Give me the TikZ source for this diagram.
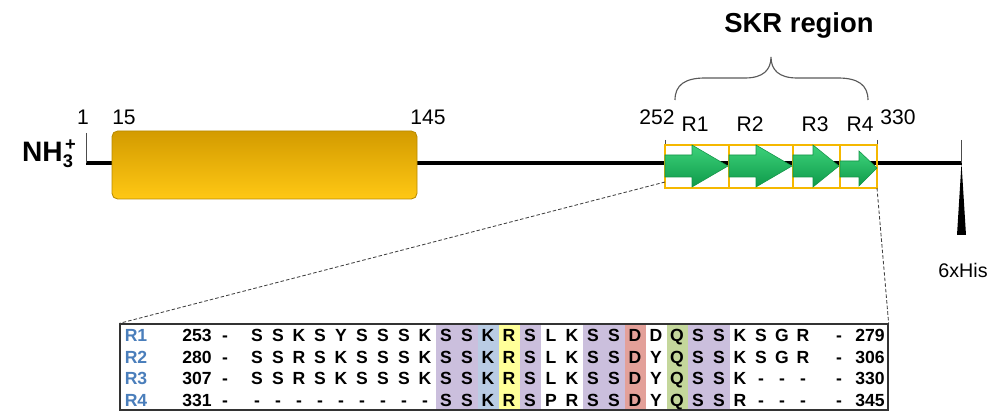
\documentclass[tikz,border=0pt]{standalone}
\usepackage{fontspec}
\setmainfont{Liberation Sans}

\definecolor{goldTop}{HTML}{D39B00}
\definecolor{goldBot}{HTML}{FFC814}
\definecolor{goldEdge}{HTML}{B88A00}
\definecolor{repEdge}{HTML}{F5B800}
\definecolor{arrTop}{HTML}{3DD27A}
\definecolor{arrBot}{HTML}{0E9A4A}
\definecolor{arrEdge}{HTML}{139447}
\definecolor{labBlue}{HTML}{4A7EBB}
\definecolor{colPur}{HTML}{CBBFDD}
\definecolor{colBlu}{HTML}{B9CCE4}
\definecolor{colYel}{HTML}{FFFF99}
\definecolor{colRed}{HTML}{E3A099}
\definecolor{colGrn}{HTML}{C4D79B}

\begin{document}
\begin{tikzpicture}[x=0.25mm, y=-0.25mm]
\tikzset{num/.style = {anchor=base, inner sep=0pt, font=\fontsize{15}{18}\selectfont}}
\tikzset{rep/.style = {anchor=base, inner sep=0pt, font=\fontsize{15}{18}\selectfont}}
\tikzset{aa/.style = {anchor=base, inner sep=0pt, font=\bfseries\fontsize{12.5}{15}\selectfont}}
\tikzset{rowlab/.style = {aa, text=labBlue}}
\tikzset{tick/.style = {draw=black!70, line width=.6pt}}
\tikzset{zoomline/.style = {draw=black!75, dashed, dash pattern=on 2.5pt off 1.5pt, line width=.6pt}}

\useasboundingbox (0,0) rectangle (1000,412);

% backbone
\coordinate (nterm) at (86,163);
\coordinate (cterm) at (962,163);
\draw[line width=2.8pt] (nterm) -- (cterm);
\draw[tick] (86,133) -- (nterm);
\draw[tick] (665,140) -- (665,145);
\draw[tick] (877,140) -- (877,145);

% his tag
\draw[tick] (961,140) -- (961,163);
\fill (957,235) -- (961.5,163) -- (966,235) -- cycle;
\node[num, font=\fontsize{14}{17}\selectfont] (his) at (963,278) {6xHis};

\node[anchor=base east, inner sep=0pt, font=\bfseries\fontsize{20}{22}\selectfont] (nh3) at (76,162)
  {NH\raisebox{-.35ex}{\fontsize{13}{13}\selectfont 3}\kern-.28em\raisebox{.8ex}{\fontsize{13}{13}\selectfont +}};

% domain box
\shade[top color=goldTop, bottom color=goldBot, draw=goldEdge, line width=.6pt, rounded corners=4pt]
  (112,131) rectangle (417,199);

\node[num] (p1) at (83,125) {1};
\node[num] (p15) at (124,125) {15};
\node[num] (p145) at (428,125) {145};
\node[num] (p252) at (657,125) {252};
\node[num] (p330) at (898,125) {330};

% repeats
\foreach \xa/\xb in {665/729, 729/793, 793/840, 840/877}
  {\draw[repEdge, line width=1.2pt] (\xa,145) rectangle (\xb,188);}

\foreach \xa/\xh/\xb/\ys/\yd/\yu/\yl/\ym in {665/692/728/155/177/145/187/166,
    729/756/792/155/177/145/187/166, 793/813/839/155/177/145/187/166,
    840/859/877/161/177/151/186/168}
  {\shade[top color=arrTop, bottom color=arrBot, draw=arrEdge, line width=.4pt]
     (\xa,\ys) -- (\xh,\ys) -- (\xh,\yu) -- (\xb,\ym) -- (\xh,\yl) -- (\xh,\yd) -- (\xa,\yd) -- cycle;}

\node[rep] (r1) at (695,132) {R1};
\node[rep] (r2) at (750,132) {R2};
\node[rep] (r3) at (815,132) {R3};
\node[rep] (r4) at (860,132) {R4};

\coordinate (skr-sw) at (665,182);
\coordinate (skr-se) at (877,188);

% brace over the repeats
\draw[black!65, line width=.8pt] (675,100) .. controls (675,85) and (685,78) .. (705,78) -- (745,78)
  .. controls (763,78) and (771,70) .. (771,57)
  .. controls (771,70) and (779,78) .. (797,78) -- (838,78)
  .. controls (858,78) and (868,85) .. (868,100);
\node[anchor=base, inner sep=0pt, font=\bfseries\fontsize{19.5}{23}\selectfont] (skr) at (799,33) {SKR region};

% alignment
\foreach \c/\col in {10/colPur, 11/colPur, 12/colBlu, 13/colYel, 14/colPur, 17/colPur, 18/colPur,
    19/colRed, 21/colGrn, 22/colPur, 23/colPur}
  {\fill[\col] ({257+21*(\c-1)-10.5},324) rectangle ({257+21*(\c-1)+10.5},410);}

\node[draw=black!80, line width=.9pt, inner sep=0pt, minimum width=192mm, minimum height=21.5mm] (tab) at (504,367) {};

\foreach \r/\first/\last/\seq [evaluate=\r as \yb using 342+21.5*(\r-1)] in {
    1/253/279/{S,S,K,S,Y,S,S,S,K,S,S,K,R,S,L,K,S,S,D,D,Q,S,S,K,S,G,R},
    2/280/306/{S,S,R,S,K,S,S,S,K,S,S,K,R,S,L,K,S,S,D,Y,Q,S,S,K,S,G,R},
    3/307/330/{S,S,R,S,K,S,S,S,K,S,S,K,R,S,L,K,S,S,D,Y,Q,S,S,K,-,-,-},
    4/331/345/{-,-,-,-,-,-,-,-,-,S,S,K,R,S,P,R,S,S,D,Y,Q,S,S,R,-,-,-}}
  {
  \node[rowlab] (lab\r) at (136,\yb) {R\r};
  \node[aa] (first\r) at (197,\yb) {\first};
  \node[aa] (dl\r) at (225,\yb) {-};
  \foreach \a [count=\c] in \seq
    {\node[aa] (a\r-\c) at ({257+21*(\c-1)},\yb) {\a};}
  \node[aa] (dr\r) at (839,\yb) {-};
  \node[aa] (last\r) at (870,\yb) {\last};
  }

\draw[zoomline] (skr-sw) -- (tab.north west);
\draw[zoomline] (skr-se) -- (tab.north east);

\end{tikzpicture}
\end{document}
